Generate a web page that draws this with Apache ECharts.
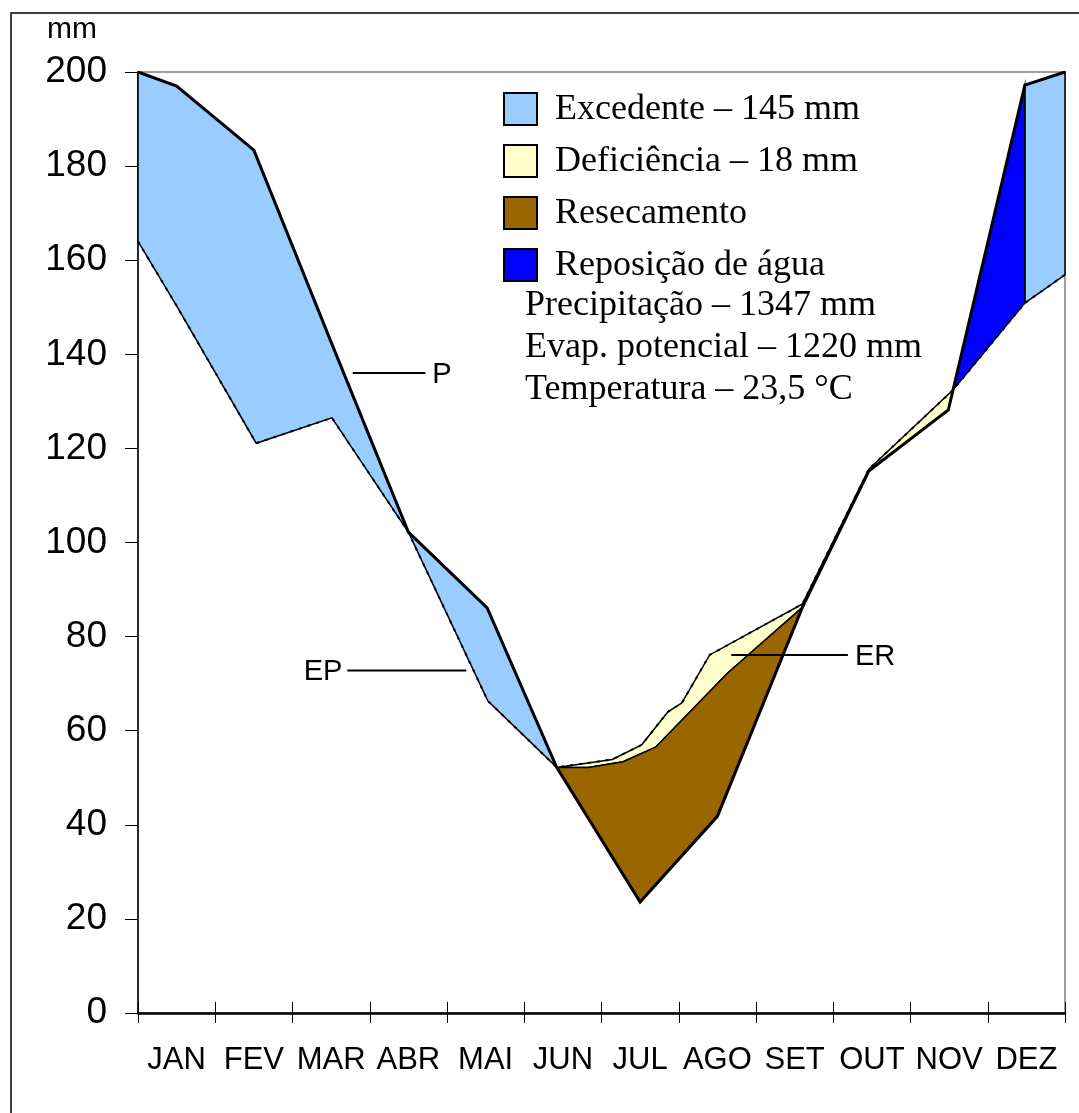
<!DOCTYPE html>
<html>
<head>
<meta charset="utf-8">
<title>Balanço hídrico</title>
<script src="https://cdn.jsdelivr.net/npm/echarts@6/dist/echarts.min.js"></script>
<style>
  html, body { margin: 0; padding: 0; background: #fff; }
  #chart { width: 1079px; height: 1113px; }
</style>
</head>
<body>
<div id="chart"></div>
<script>
// Month labels (one per band of the x axis, 0..12)
const months = ['JAN', 'FEV', 'MAR', 'ABR', 'MAI', 'JUN', 'JUL', 'AGO', 'SET', 'OUT', 'NOV', 'DEZ'];

// Y axis range (mm)
const yMin = 0, yMax = 200, yStep = 20;

// Precipitação (P) — [month position, mm]
const precip = [
  [0, 200], [0.5, 197], [1.5, 183.4], [2.5, 142.6], [3.5, 102.2], [4.52, 86.1],
  [5.42, 52.2], [6.5, 23.6], [7.5, 41.8], [8.6, 86.2], [9.46, 115.2],
  [10.49, 128.2], [11.48, 197.2], [12, 200]
];

// Evapotranspiração potencial (EP)
const evapPot = [
  [0, 164], [0.5, 150.3], [1.53, 121.1], [2.51, 126.5], [3.5, 102.2], [4.53, 66.3],
  [5.42, 52.2], [6.14, 53.9], [6.52, 57.0], [6.86, 64.0], [7.04, 65.9], [7.4, 76.1],
  [8.6, 86.9], [9.46, 115.6], [10.55, 132.4], [11.48, 150.9], [12, 156.9]
];

// Evapotranspiração real (ER) during the dry season
const evapReal = [
  [5.42, 52.2], [5.83, 52.2], [6.28, 53.4], [6.7, 56.5], [7.63, 72.2], [8.6, 86.2]
];

// Period limits (month positions)
const wetEnd = 5.42;         // end of surplus period
const dryEnd = 8.6;          // ER meets P again
const rechargeStart = 10.55; // P rises above EP
const rechargeEnd = 11.48;   // soil storage full again

// Curve name tags: [from x, to x, level (mm), name, side of the name]
const curveTags = [
  [2.78, 3.72, 136.0, 'P', 'right'],
  [2.71, 4.25, 72.8, 'EP', 'left'],
  [7.68, 9.19, 76.1, 'ER', 'right']
];

// Legend entries and summary lines
const legendLabels = ['Excedente – 145 mm', 'Deficiência – 18 mm', 'Resecamento', 'Reposição de água'];
const summaryLines = ['Precipitação – 1347 mm', 'Evap. potencial – 1220 mm', 'Temperatura – 23,5 °C'];

const COLORS = {
  surplus: '#99CCFF',
  deficit: '#FFFFCC',
  drying: '#996600',
  recharge: '#0000FF'
};

// Linear value of a polyline at position x
function valueAt(curve, x) {
  for (let i = 0; i < curve.length - 1; i++) {
    const a = curve[i], b = curve[i + 1];
    if (x >= a[0] && x <= b[0]) {
      if (b[0] === a[0]) return a[1];
      return a[1] + (b[1] - a[1]) * (x - a[0]) / (b[0] - a[0]);
    }
  }
  return x < curve[0][0] ? curve[0][1] : curve[curve.length - 1][1];
}

function slice(curve, x0, x1) {
  const pts = [[x0, valueAt(curve, x0)]];
  curve.forEach(p => { if (p[0] > x0 && p[0] < x1) pts.push(p); });
  pts.push([x1, valueAt(curve, x1)]);
  return pts;
}

// Closed outline between an upper and a lower curve over [x0, x1]
function band(upper, lower, x0, x1) {
  return slice(upper, x0, x1).concat(slice(lower, x0, x1).reverse());
}

const regions = {
  surplus: [band(precip, evapPot, 0, wetEnd), band(precip, evapPot, rechargeEnd, 12)],
  deficit: [band(evapPot, evapReal, wetEnd, dryEnd), band(evapPot, precip, dryEnd, rechargeStart)],
  drying: [band(evapReal, precip, wetEnd, dryEnd)],
  recharge: [band(precip, evapPot, rechargeStart, rechargeEnd)]
};

function regionSeries(name, polys, color) {
  return {
    type: 'custom',
    name: name,
    coordinateSystem: 'cartesian2d',
    xAxisIndex: 0,
    yAxisIndex: 0,
    silent: true,
    z: 2,
    data: polys.map((p, i) => [p[0][0], p[0][1], i]),
    encode: { x: 0, y: 1 },
    renderItem: function (params, api) {
      const pts = polys[params.dataIndex].map(p => api.coord(p));
      return {
        type: 'polygon',
        shape: { points: pts },
        style: { fill: color, stroke: '#000', lineWidth: 1.5, lineJoin: 'miter' }
      };
    }
  };
}

const sans = 'Liberation Sans, Arial, sans-serif';
const serif = 'Liberation Serif, Times New Roman, serif';

const chart = echarts.init(document.getElementById('chart'), null, { renderer: 'canvas' });

const legendGraphics = [];
const legendColors = [COLORS.surplus, COLORS.deficit, COLORS.drying, COLORS.recharge];
legendLabels.forEach((t, i) => {
  legendGraphics.push({
    type: 'rect',
    shape: { x: 504, y: 93 + i * 52, width: 33, height: 32 },
    style: { fill: legendColors[i], stroke: '#000', lineWidth: 2 }
  });
  legendGraphics.push({
    type: 'text',
    x: 555, y: 110 + i * 52,
    style: { text: t, font: '36px ' + serif, fill: '#000', verticalAlign: 'middle' }
  });
});
summaryLines.forEach((t, i) => {
  legendGraphics.push({
    type: 'text',
    x: 525, y: 306 + i * 42,
    style: { text: t, font: '36px ' + serif, fill: '#000', verticalAlign: 'middle' }
  });
});

chart.setOption({
  backgroundColor: '#fff',
  animation: false,
  grid: {
    left: 138, right: 14, top: 72, bottom: 100,
    show: true, borderColor: '#808080', borderWidth: 1.5, backgroundColor: 'transparent'
  },
  xAxis: [
    {
      type: 'value', min: 0, max: 12, interval: 1, position: 'bottom',
      axisLine: { show: true, onZero: false, lineStyle: { color: '#000', width: 2.5 } },
      axisTick: { show: true, length: 10, lineStyle: { color: '#000', width: 1 } },
      axisLabel: { show: false },
      splitLine: { show: false }
    },
    {
      type: 'value', min: 0, max: 12, interval: 1, position: 'bottom',
      axisLine: { show: false, onZero: false },
      axisTick: { show: true, inside: true, length: 11, lineStyle: { color: '#000', width: 1 } },
      axisLabel: { show: false },
      splitLine: { show: false }
    },
    {
      type: 'category', data: months, position: 'bottom', boundaryGap: true,
      axisLine: { show: false, onZero: false },
      axisTick: { show: false },
      axisLabel: {
        interval: 0, margin: 32, color: '#000', fontSize: 31,
        fontFamily: 'Liberation Sans Narrow, Arial Narrow, Liberation Sans, Arial, sans-serif'
      },
      splitLine: { show: false }
    }
  ],
  yAxis: {
    type: 'value', min: yMin, max: yMax, interval: yStep,
    axisLine: { show: true, lineStyle: { color: '#000', width: 1.5 } },
    axisTick: { show: true, length: 13, lineStyle: { color: '#000', width: 1 } },
    axisLabel: { margin: 31, color: '#000', fontSize: 37, fontFamily: sans },
    splitLine: { show: false }
  },
  graphic: [
    {
      type: 'rect', silent: true,
      shape: { x: 11, y: 13, width: 1100, height: 1140 },
      style: { fill: 'none', stroke: '#000', lineWidth: 1.5 }
    },
    {
      type: 'text', x: 47, y: 30,
      style: { text: 'mm', font: '30px ' + sans, fill: '#000', verticalAlign: 'middle' }
    }
  ].concat(legendGraphics),
  series: [
    regionSeries('Excedente', regions.surplus, COLORS.surplus),
    regionSeries('Deficiência', regions.deficit, COLORS.deficit),
    regionSeries('Resecamento', regions.drying, COLORS.drying),
    regionSeries('Reposição de água', regions.recharge, COLORS.recharge),
    {
      type: 'line', name: 'EP', xAxisIndex: 0, yAxisIndex: 0, silent: true, z: 3,
      symbol: 'none', data: evapPot,
      lineStyle: { color: '#000', width: 2, type: [3, 6] }
    },
    {
      type: 'line', name: 'P', xAxisIndex: 0, yAxisIndex: 0, silent: true, z: 4,
      symbol: 'none', data: precip,
      lineStyle: { color: '#000', width: 3, join: 'miter' }
    },
    {
      // pointer lines naming the curves
      type: 'custom', name: 'curve names', coordinateSystem: 'cartesian2d',
      xAxisIndex: 0, yAxisIndex: 0, silent: true, z: 5,
      data: curveTags.map(t => [t[0], t[2]]),
      encode: { x: 0, y: 1 },
      renderItem: function (params, api) {
        const t = curveTags[params.dataIndex];
        const a = api.coord([t[0], t[2]]);
        const b = api.coord([t[1], t[2]]);
        const left = t[4] === 'left';
        return {
          type: 'group',
          children: [
            { type: 'line', shape: { x1: a[0], y1: a[1], x2: b[0], y2: b[1] },
              style: { stroke: '#000', lineWidth: 2 } },
            { type: 'text', x: left ? a[0] - 5 : b[0] + 7, y: a[1] + 2,
              style: { text: t[3], font: '29px ' + sans, fill: '#000',
                align: left ? 'right' : 'left', verticalAlign: 'middle' } }
          ]
        };
      }
    }
  ]
});
</script>
</body>
</html>
